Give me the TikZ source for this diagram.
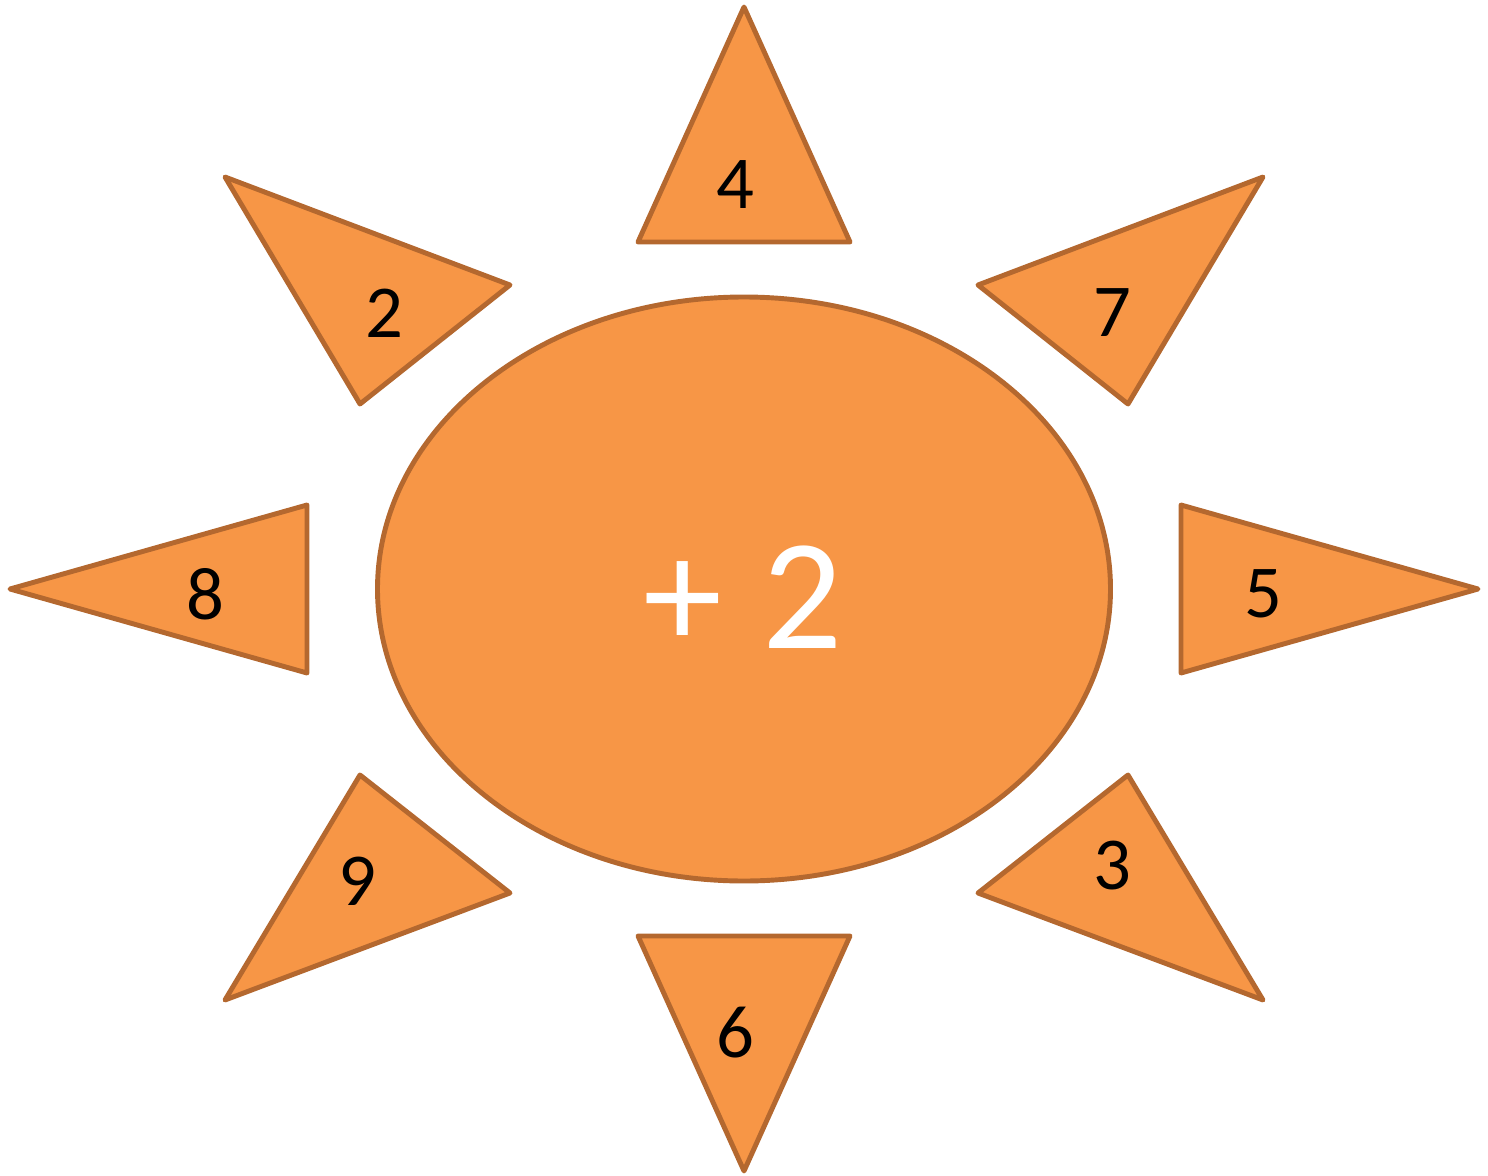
\documentclass[tikz,border=0pt]{standalone}
\usepackage{fontspec}
\setmainfont{Carlito}
\definecolor{sunfill}{HTML}{F79646}
\definecolor{sunline}{HTML}{B4682F}
\begin{document}
\begin{tikzpicture}[x=0.02cm,y=-0.02cm,
  shp/.style={fill=sunfill,draw=sunline,line width=2.8pt,line join=round},
  lbl/.style={font=\fontsize{42.5}{50}\selectfont,text=black,inner sep=0pt},
  big/.style={font=\fontsize{90}{100}\selectfont,text=white,inner sep=0pt}]
\useasboundingbox (0,0) rectangle (1488,1176);
% sun body
\draw[shp] (744,589) ellipse [x radius=366.5, y radius=292];
\node[big] (center) at (743,597) {+\hspace{23pt}2};
% rays
\draw[shp] (744,7) -- (638,242) -- (850,242) -- cycle;
\draw[shp] (225,177) -- (510,285) -- (360,404) -- cycle;
\draw[shp] (1263,177) -- (978,285) -- (1128,404) -- cycle;
\draw[shp] (10,589) -- (307,505) -- (307,673) -- cycle;
\draw[shp] (1478,589) -- (1181,505) -- (1181,673) -- cycle;
\draw[shp] (360,775) -- (510,893) -- (225,1000) -- cycle;
\draw[shp] (1128,775) -- (978,893) -- (1263,1000) -- cycle;
\draw[shp] (638,936) -- (850,936) -- (744,1171) -- cycle;
% labels
\node[lbl] (n4) at (735,185) {4};
\node[lbl] (n2) at (384,313) {2};
\node[lbl] (n7) at (1112,313) {7};
\node[lbl] (n8) at (205,594) {8};
\node[lbl] (n5) at (1263,594) {5};
\node[lbl] (n9) at (357,881) {9};
\node[lbl] (n3) at (1112,866) {3};
\node[lbl] (n6) at (735,1033) {6};
\end{tikzpicture}
\end{document}
